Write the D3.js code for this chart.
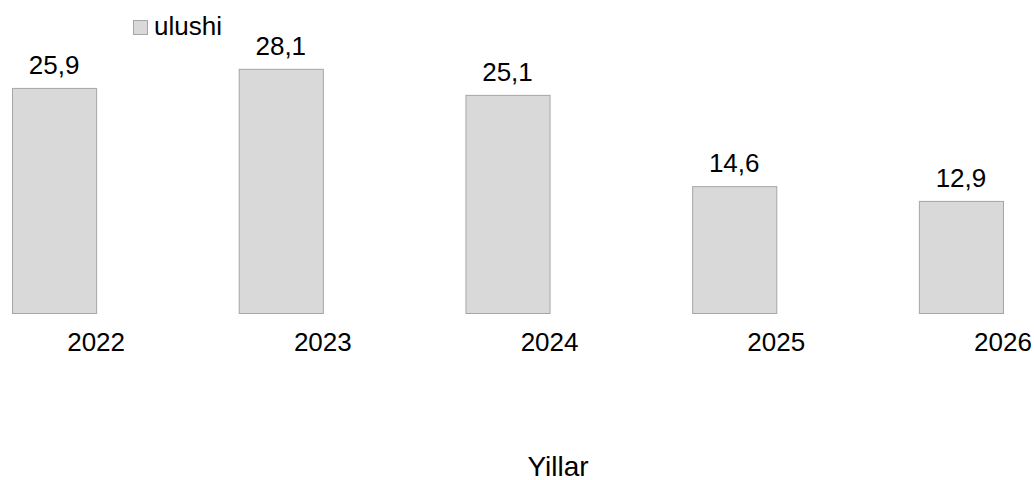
<!DOCTYPE html>
<html>
<meta charset="utf-8">
<style>
body {
  margin: 0;
  background: #fff;
  font-family: "Liberation Sans", Arial, sans-serif;
}
.bar {
  fill: #d9d9d9;
  stroke: #a6a6a6;
  stroke-width: 1;
}
text {
  fill: #000;
}
</style>
<body>
<script src="https://d3js.org/d3.v7.min.js"></script>
<script>
// data
var years = ["2022", "2023", "2024", "2025", "2026"];
var ulushi = [25.9, 28.1, 25.1, 14.6, 12.9];
var seriesName = "ulushi";
var axisTitle = "Yillar";

var width = 1034, height = 480;

var svg = d3.select("body").append("svg")
    .attr("width", width)
    .attr("height", height);

// scales
var x = d3.scaleBand()
    .domain(years)
    .range([12, 1003])
    .paddingInner(0.629)
    .paddingOuter(0);

var y = d3.scaleLinear()
    .domain([0, 30])
    .range([313, 52.3]);

var data = years.map(function(d, i) { return {year: d, value: ulushi[i]}; });

// bars
svg.selectAll(".bar")
    .data(data)
  .enter().append("rect")
    .attr("class", "bar")
    .attr("x", function(d) { return x(d.year) + 0.5; })
    .attr("y", function(d) { return y(d.value) + 0.5; })
    .attr("width", x.bandwidth())
    .attr("height", function(d) { return y(0) - y(d.value); });

// value labels
svg.selectAll(".val")
    .data(data)
  .enter().append("text")
    .attr("class", "val")
    .attr("x", function(d) { return x(d.year) + x.bandwidth() / 2; })
    .attr("y", function(d) { return y(d.value) - 14; })
    .style("text-anchor", "middle")
    .style("font-size", "26px")
    .text(function(d) { return d3.format(".1f")(d.value).replace(".", ","); });

// x axis (labels only, centred on the bar's right edge)
var xAxis = d3.axisBottom(x).tickSize(0).tickPadding(0);
var gx = svg.append("g")
    .attr("transform", "translate(" + (x.bandwidth() / 2) + ",351)")
    .call(xAxis);
gx.select(".domain").remove();
gx.selectAll("text")
    .attr("dy", null)
    .attr("y", 0)
    .style("font-size", "26px")
    .style("font-family", "'Liberation Sans', Arial, sans-serif")
    .style("fill", "#000");

// axis title
svg.append("text")
    .attr("x", 558)
    .attr("y", 476)
    .style("text-anchor", "middle")
    .style("font-size", "28px")
    .text(axisTitle);

// legend
var legend = svg.append("g").attr("transform", "translate(133,20)");
legend.append("rect")
    .attr("class", "bar")
    .attr("x", 0.5)
    .attr("y", 0.5)
    .attr("width", 14)
    .attr("height", 14);
legend.append("text")
    .attr("x", 21)
    .attr("y", 15)
    .style("font-size", "26px")
    .text(seriesName);
</script>
</body>
</html>
